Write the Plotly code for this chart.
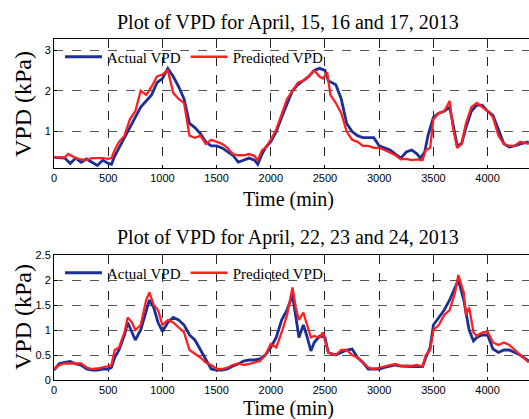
import plotly.graph_objects as go

# ---- Data (top: April 15-17, 2013) ----
t_top_actual = [0,100,150,200,250,300,350,400,450,500,530,560,600,650,700,750,800,850,900,950,1000,1050,1100,1150,1200,1250,1300,1350,1400,1450,1500,1550,1600,1650,1700,1750,1800,1850,1880,1920,1950,2000,2050,2100,2150,2200,2250,2300,2350,2400,2450,2500,2530,2600,2650,2700,2750,2800,2850,2900,2950,3000,3050,3100,3150,3200,3250,3300,3350,3380,3420,3450,3500,3550,3600,3650,3680,3720,3760,3800,3850,3900,3950,4000,4050,4100,4150,4200,4250,4300,4380]
v_top_actual = [0.37,0.35,0.22,0.35,0.25,0.33,0.25,0.17,0.30,0.22,0.20,0.40,0.60,0.85,1.10,1.35,1.60,1.75,1.90,2.20,2.30,2.55,2.35,2.10,1.80,1.20,1.10,0.95,0.75,0.65,0.65,0.60,0.50,0.42,0.25,0.30,0.35,0.30,0.20,0.45,0.60,0.75,1.00,1.35,1.70,2.00,2.15,2.25,2.35,2.50,2.55,2.50,2.25,2.15,1.80,1.20,1.00,0.90,0.85,0.85,0.85,0.65,0.60,0.55,0.45,0.35,0.50,0.55,0.45,0.35,0.50,0.90,1.35,1.45,1.50,1.60,1.20,0.65,0.70,1.10,1.50,1.65,1.65,1.50,1.40,1.05,0.70,0.62,0.65,0.70,0.75]

t_top_pred = [0,100,130,200,250,300,350,400,450,500,530,560,600,650,700,750,800,850,900,950,1000,1050,1100,1150,1200,1250,1300,1350,1400,1450,1500,1550,1600,1650,1700,1750,1800,1850,1880,1920,1950,2000,2050,2100,2150,2200,2250,2300,2350,2400,2450,2480,2520,2550,2600,2650,2700,2750,2800,2850,2900,2950,3000,3050,3100,3150,3200,3250,3300,3350,3400,3430,3470,3500,3550,3600,3650,3680,3720,3760,3800,3850,3900,3950,4000,4050,4100,4150,4200,4250,4300,4380]
v_top_pred = [0.37,0.37,0.45,0.35,0.32,0.30,0.35,0.35,0.35,0.33,0.35,0.55,0.75,0.90,1.30,1.50,2.00,1.90,2.10,2.35,2.40,2.50,1.95,1.80,1.70,0.90,0.85,0.90,0.70,0.80,0.75,0.70,0.60,0.45,0.42,0.42,0.45,0.40,0.30,0.55,0.60,0.80,1.05,1.40,1.80,2.00,2.20,2.25,2.35,2.50,2.35,2.30,2.45,1.90,1.70,1.45,1.00,0.80,0.75,0.65,0.65,0.60,0.60,0.55,0.48,0.42,0.32,0.33,0.30,0.32,0.30,0.55,0.60,1.30,1.45,1.50,1.75,1.10,0.60,0.70,1.20,1.60,1.70,1.60,1.50,1.35,0.90,0.70,0.65,0.65,0.75,0.70]

# ---- Data (bottom: April 22-24, 2013) ----
t_bot = [0,50,100,150,200,250,300,350,400,450,500,530,560,600,650,680,720,750,800,850,880,920,960,1000,1050,1100,1150,1200,1250,1300,1350,1400,1450,1500,1550,1600,1650,1700,1750,1800,1850,1900,1950,2000,2050,2100,2150,2200,2230,2260,2300,2330,2370,2400,2450,2500,2530,2600,2650,2700,2750,2800,2850,2900,2950,3000,3050,3100,3150,3200,3250,3300,3350,3400,3430,3470,3500,3550,3600,3650,3700,3730,3780,3830,3870,3900,3950,4000,4050,4100,4150,4200,4250,4300,4380]
v_bot_actual = [0.20,0.33,0.35,0.37,0.32,0.30,0.22,0.20,0.20,0.22,0.22,0.25,0.45,0.60,0.90,1.15,0.95,0.80,1.00,1.40,1.60,1.45,1.15,0.97,1.15,1.25,1.20,1.10,0.90,0.80,0.60,0.40,0.22,0.20,0.20,0.22,0.28,0.32,0.38,0.40,0.40,0.42,0.50,0.65,0.85,1.20,1.40,1.70,1.30,0.85,1.10,0.90,0.58,0.75,0.88,0.85,0.55,0.50,0.55,0.60,0.62,0.45,0.35,0.22,0.22,0.22,0.25,0.28,0.30,0.28,0.27,0.27,0.27,0.27,0.45,0.65,1.10,1.25,1.40,1.60,1.85,2.00,1.60,1.00,0.78,0.85,0.90,0.90,0.62,0.55,0.60,0.60,0.55,0.50,0.38]

t_bot_pred = [0,50,100,150,200,250,300,350,400,450,500,530,560,600,650,680,720,750,800,850,880,920,960,1000,1050,1100,1150,1200,1250,1300,1350,1400,1450,1500,1550,1600,1650,1700,1750,1800,1850,1900,1950,2000,2050,2100,2150,2200,2230,2260,2300,2330,2370,2400,2450,2480,2530,2600,2650,2700,2750,2800,2850,2900,2950,3000,3050,3100,3150,3200,3250,3300,3350,3400,3430,3470,3500,3550,3600,3650,3700,3730,3780,3800,3830,3870,3900,3950,4000,4050,4100,4150,4200,4250,4300,4380]
v_bot_pred = [0.22,0.30,0.33,0.33,0.32,0.33,0.25,0.22,0.23,0.25,0.28,0.30,0.60,0.65,0.95,1.25,1.15,1.00,1.10,1.60,1.75,1.50,1.40,1.10,1.20,1.15,1.05,0.95,0.60,0.52,0.45,0.35,0.30,0.22,0.22,0.25,0.30,0.33,0.30,0.32,0.35,0.38,0.50,0.72,0.65,0.95,1.30,1.85,1.45,1.20,1.35,1.15,0.85,0.88,0.85,0.95,0.55,0.50,0.60,0.60,0.50,0.45,0.35,0.25,0.22,0.25,0.27,0.30,0.32,0.28,0.28,0.28,0.30,0.27,0.50,0.60,1.00,1.10,1.30,1.40,1.75,2.10,1.75,1.30,1.45,0.95,0.88,0.95,0.97,0.75,0.70,0.75,0.70,0.60,0.50,0.35]

x_ticks = [0, 500, 1000, 1500, 2000, 2500, 3000, 3500, 4000]
top_yticks = [1, 2, 3]
bot_yticks = [0, 0.5, 1, 1.5, 2, 2.5]
bot_yticklabels = ["0", "0.5", "1", "1.5", "2", "2.5"]

BLUE = "#1c2f95"
RED = "#ff1f1f"
SERIF = "Liberation Serif"
SANS = "Liberation Sans"

fig = go.Figure()
fig.add_trace(go.Scatter(x=t_top_actual, y=v_top_actual, mode="lines", name="Actual VPD",
                         line=dict(color=BLUE, width=2.8), xaxis="x", yaxis="y", legend="legend"))
fig.add_trace(go.Scatter(x=t_top_pred, y=v_top_pred, mode="lines", name="Predicted VPD",
                         line=dict(color=RED, width=2.3), xaxis="x", yaxis="y", legend="legend"))
fig.add_trace(go.Scatter(x=t_bot, y=v_bot_actual, mode="lines", name="Actual VPD",
                         line=dict(color=BLUE, width=2.8), xaxis="x2", yaxis="y2", legend="legend2"))
fig.add_trace(go.Scatter(x=t_bot_pred, y=v_bot_pred, mode="lines", name="Predicted VPD",
                         line=dict(color=RED, width=2.3), xaxis="x2", yaxis="y2", legend="legend2"))

W, H = 529, 419
x0 = 54 / W

def xax(anchor):
    return dict(domain=[x0, 1], range=[0, 4382], tickvals=x_ticks, anchor=anchor,
                automargin=False,
                showline=True, linecolor="black", linewidth=1, mirror=True,
                ticks="inside", ticklen=3, tickcolor="black",
                showgrid=True, gridcolor="#222", griddash="dash", gridwidth=1,
                zeroline=False, tickfont=dict(family=SANS, size=11, color="black"))

def yax(anchor, dom, rng, tv, tt=None):
    d = dict(domain=dom, range=rng, tickvals=tv, anchor=anchor,
             automargin=False,
             showline=True, linecolor="black", linewidth=1, mirror=False,
             ticks="inside", ticklen=3, tickcolor="black",
             showgrid=True, gridcolor="#555", griddash="dash", gridwidth=1,
             zeroline=False, tickfont=dict(family=SANS, size=11, color="black"))
    if tt is not None:
        d["ticktext"] = tt
    return d

top_dom = [1 - 167.7 / H, 1 - 39 / H]
bot_dom = [1 - 380 / H, 1 - 255 / H]

def ann(text, px, py, size, angle=0):
    return dict(text=text, x=px / W, y=1 - py / H, xref="paper", yref="paper",
                showarrow=False, xanchor="center", yanchor="middle", textangle=angle,
                font=dict(family=SERIF, size=size, color="black"))

leg_common = dict(xanchor="left", yanchor="middle", orientation="h",
                  bgcolor="rgba(0,0,0,0)", font=dict(family=SERIF, size=15, color="black"),
                  itemwidth=37, tracegroupgap=0)

fig.update_layout(
    width=W, height=H,
    margin=dict(l=0, r=0, t=0, b=0),
    paper_bgcolor="white", plot_bgcolor="white",
    xaxis=xax("y"),
    yaxis=yax("x", top_dom, [0.115, 3.27], top_yticks),
    xaxis2=xax("y2"),
    yaxis2=yax("x2", bot_dom, [0, 2.5], bot_yticks, bot_yticklabels),
    legend=dict(x=60 / W, y=1 - 57 / H, **leg_common),
    legend2=dict(x=60 / W, y=1 - 273 / H, **leg_common),
    annotations=[
        ann("Plot of VPD for April, 15, 16 and 17, 2013", 288, 22.7, 20),
        ann("Plot of VPD for April, 22, 23 and 24, 2013", 288, 237.7, 20),
        ann("Time (min)", 288, 200, 20),
        ann("Time (min)", 288, 408, 20),
        ann("VPD (kPa)", 23, 104, 24, -90),
        ann("VPD (kPa)", 23, 317, 24, -90),
    ],
)

fig.write_html("out.html", config={"displayModeBar": False},
               post_script="document.body.style.margin='0';document.body.style.overflow='hidden';")
